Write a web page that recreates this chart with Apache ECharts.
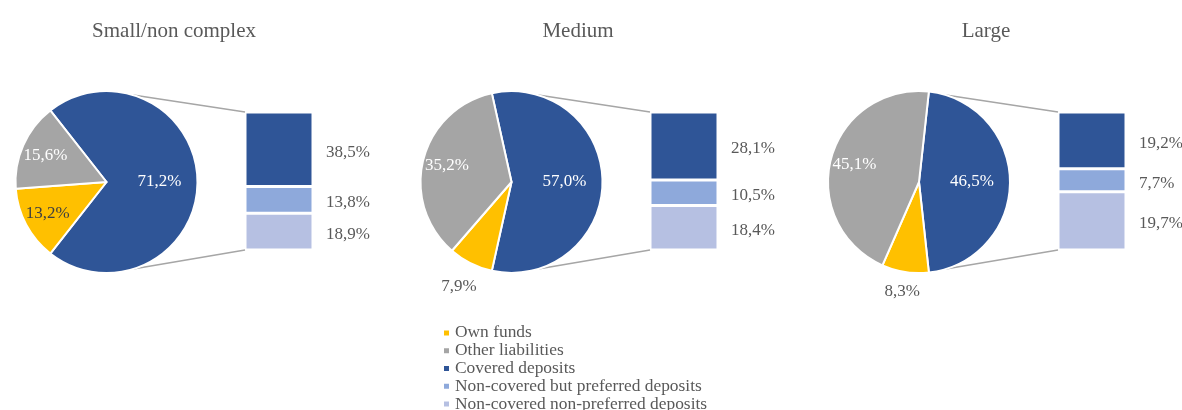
<!DOCTYPE html>
<html>
<head>
<meta charset="utf-8">
<script src="https://cdn.jsdelivr.net/npm/echarts@6/dist/echarts.min.js"></script>
<style>
  html, body { margin: 0; padding: 0; background: #fff; }
  #chart { width: 1182px; height: 410px; }
</style>
</head>
<body>
<div id="chart"></div>
<script>
// data
const groups = ["Small/non complex", "Medium", "Large"];
const ownFunds = [13.2, 7.9, 8.3];
const otherLiabilities = [15.6, 35.2, 45.1];
const coveredShare = [71.2, 57.0, 46.5];
const coveredDeposits = [38.5, 28.1, 19.2];
const nonCoveredPreferred = [13.8, 10.5, 7.7];
const nonCoveredNonPreferred = [18.9, 18.4, 19.7];

const colors = {
  own: "#FFC000",
  other: "#A5A5A5",
  covered: "#2F5597",
  preferred: "#8EA9DB",
  nonPreferred: "#B6C0E2"
};
const font = "'Times New Roman', 'Liberation Serif', serif";
const textColor = "#595959";

// layout
const pieCenters = [[106.5, 182], [511.5, 182], [919, 182]];
const pieR = 91;
const barLeft = [245, 650, 1058];
const barTop = 112;
const barW = 68;
const barH = 138;
const titleX = [169, 573, 981];
const ownLabelRatio = [0.7, 1.25, 1.18];

const fmt = (v) => v.toFixed(1).replace(".", ",") + "%";

let series = [];
let grid = [];
let xAxis = [];
let yAxis = [];
let graphic = [];

groups.forEach((g, i) => {
  const total = coveredShare[i] + ownFunds[i] + otherLiabilities[i];
  const start = (coveredShare[i] / total) * 180;
  const pieData = [
    { name: "Covered deposits", value: coveredShare[i], itemStyle: { color: colors.covered } },
    { name: "Own funds", value: ownFunds[i], itemStyle: { color: colors.own } },
    { name: "Other liabilities", value: otherLiabilities[i], itemStyle: { color: colors.other } }
  ];
  series.push({
    type: "pie",
    center: pieCenters[i],
    radius: [0, pieR],
    startAngle: start,
    clockwise: true,
    silent: true,
    label: { show: false },
    labelLine: { show: false },
    itemStyle: { borderColor: "#fff", borderWidth: 2 },
    data: pieData
  });

  // label-only pies, so the labels sit at a chosen distance from the centre
  const labelPie = (ratio, show, color) => ({
    type: "pie",
    center: pieCenters[i],
    radius: [0, pieR * ratio * 2],
    startAngle: start,
    clockwise: true,
    silent: true,
    z: 5,
    itemStyle: { color: "rgba(0,0,0,0)" },
    labelLine: { show: false },
    label: { show: true, position: "inside", fontFamily: font, fontSize: 17 },
    data: pieData.map((d, k) => ({
      name: d.name,
      value: d.value,
      label: { show: show[k], color: color[k], formatter: (p) => fmt(p.value) }
    }))
  });
  series.push(labelPie(0.55, [true, false, false], ["#fff", "#fff", "#fff"]));
  series.push(labelPie(0.7, [false, ownLabelRatio[i] < 1, true], ["#fff", "#404040", "#fff"]));
  if (ownLabelRatio[i] >= 1) {
    series.push(labelPie(ownLabelRatio[i], [false, true, false], ["#fff", textColor, "#fff"]));
  }

  // stacked bar breaking down the covered share
  grid.push({ left: barLeft[i], top: barTop, width: barW, height: barH });
  xAxis.push({ type: "category", gridIndex: i, data: [g], show: false });
  yAxis.push({ type: "value", gridIndex: i, min: 0, max: coveredDeposits[i] + nonCoveredPreferred[i] + nonCoveredNonPreferred[i], show: false });
  const bar = (name, vals, color) => ({
    name: name,
    type: "bar",
    xAxisIndex: i,
    yAxisIndex: i,
    stack: "s" + i,
    barWidth: "100%",
    silent: true,
    itemStyle: { color: color, borderColor: "#fff", borderWidth: 1.5 },
    label: {
      show: true,
      position: "right",
      distance: 13,
      color: textColor,
      fontFamily: font,
      fontSize: 17,
      offset: [0, 3],
      formatter: (p) => fmt(p.value)
    },
    data: [vals[i]]
  });
  series.push(bar("Non-covered non-preferred deposits", nonCoveredNonPreferred, colors.nonPreferred));
  series.push(bar("Non-covered but preferred deposits", nonCoveredPreferred, colors.preferred));
  series.push(bar("Covered deposits", coveredDeposits, colors.covered));

  // connector lines from the pie to the bar
  const a = (73 * Math.PI) / 180;
  const [cx, cy] = pieCenters[i];
  const px = cx + pieR * Math.cos(a);
  [[cy - pieR * Math.sin(a), barTop], [cy + pieR * Math.sin(a), barTop + barH]].forEach(([y1, y2]) => {
    graphic.push({
      type: "line",
      silent: true,
      shape: { x1: px, y1: y1, x2: barLeft[i], y2: y2 },
      style: { stroke: "#A6A6A6", lineWidth: 1.5 }
    });
  });
});

const chart = echarts.init(document.getElementById("chart"));
chart.setOption({
  animation: false,
  backgroundColor: "#fff",
  title: groups.map((g, i) => ({
    text: g,
    left: titleX[i],
    top: 16,
    textAlign: "center",
    textStyle: { fontFamily: font, fontSize: 21, fontWeight: "normal", color: textColor }
  })),
  legend: {
    orient: "vertical",
    left: 442,
    top: 324,
    height: 120,
    padding: 0,
    itemGap: 0,
    itemWidth: 7,
    itemHeight: 7,
    icon: "rect",
    selectedMode: false,
    textStyle: { fontFamily: font, fontSize: 17.4, lineHeight: 17.8, color: textColor },
    data: ["Own funds", "Other liabilities", "Covered deposits", "Non-covered but preferred deposits", "Non-covered non-preferred deposits"]
  },
  grid: grid,
  xAxis: xAxis,
  yAxis: yAxis,
  graphic: graphic,
  series: series
});
</script>
</body>
</html>
